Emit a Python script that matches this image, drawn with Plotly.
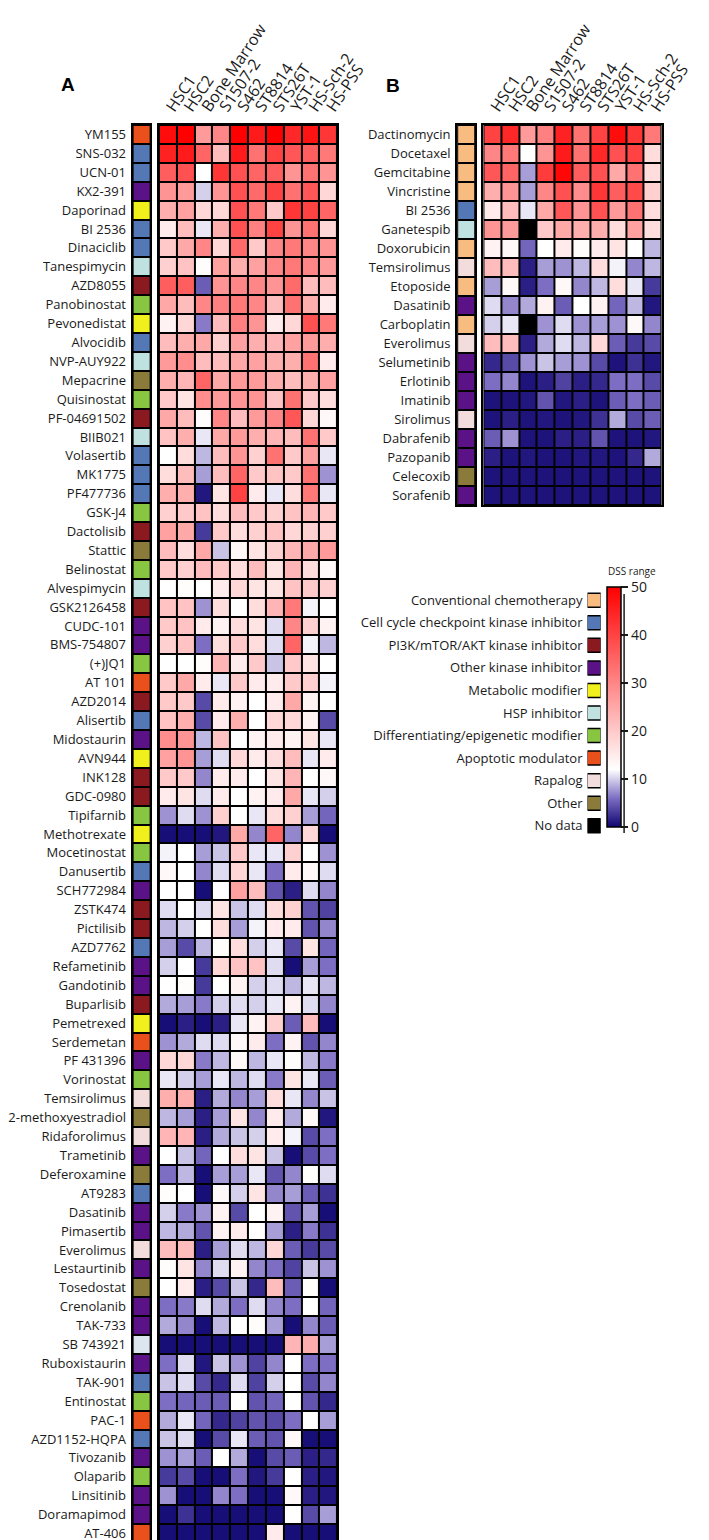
import plotly.graph_objects as go

W, H = 709, 1540

cell_lines = ["HSC1", "HSC2", "Bone Marrow", "S1507-2", "S462",
              "ST8814", "STS26T", "YST-1", "HS-Sch-2", "HS-PSS"]

# ---- panel A: drug screen ----
drugs_a = ["YM155", "SNS-032", "UCN-01", "KX2-391", "Daporinad", "BI 2536", "Dinaciclib",
           "Tanespimycin", "AZD8055", "Panobinostat", "Pevonedistat", "Alvocidib", "NVP-AUY922",
           "Mepacrine", "Quisinostat", "PF-04691502", "BIIB021", "Volasertib", "MK1775",
           "PF477736", "GSK-J4", "Dactolisib", "Stattic", "Belinostat", "Alvespimycin",
           "GSK2126458", "CUDC-101", "BMS-754807", "(+)JQ1", "AT 101", "AZD2014", "Alisertib",
           "Midostaurin", "AVN944", "INK128", "GDC-0980", "Tipifarnib", "Methotrexate",
           "Mocetinostat", "Danusertib", "SCH772984", "ZSTK474", "Pictilisib", "AZD7762",
           "Refametinib", "Gandotinib", "Buparlisib", "Pemetrexed", "Serdemetan", "PF 431396",
           "Vorinostat", "Temsirolimus", "2-methoxyestradiol", "Ridaforolimus", "Trametinib",
           "Deferoxamine", "AT9283", "Dasatinib", "Pimasertib", "Everolimus", "Lestaurtinib",
           "Tosedostat", "Crenolanib", "TAK-733", "SB 743921", "Ruboxistaurin", "TAK-901",
           "Entinostat", "PAC-1", "AZD1152-HQPA", "Tivozanib", "Olaparib", "Linsitinib",
           "Doramapimod", "AT-406"]

class_a = ["apop", "cc", "cc", "kin", "meta", "cc", "cc",
           "hsp", "pi3k", "epi", "meta", "cc", "hsp",
           "oth", "epi", "pi3k", "hsp", "cc", "cc",
           "cc", "epi", "pi3k", "oth", "epi", "hsp",
           "pi3k", "kin", "kin", "epi", "apop", "pi3k", "cc",
           "kin", "meta", "pi3k", "pi3k", "epi", "meta",
           "epi", "cc", "kin", "pi3k", "pi3k", "cc",
           "kin", "kin", "pi3k", "meta", "apop", "kin",
           "epi", "rapa", "oth", "rapa", "kin",
           "oth", "cc", "kin", "kin", "rapa", "kin",
           "oth", "kin", "kin", "ksp", "kin", "cc",
           "epi", "apop", "cc", "kin", "epi", "kin",
           "kin", "apop"]

dss_a = [
    [48, 50, 27, 30, 50, 46, 50, 44, 47, 42],
    [45, 46, 35, 22, 46, 33, 40, 37, 36, 32],
    [36, 38, 12, 42, 38, 35, 36, 28, 33, 28],
    [28, 27, 10, 28, 38, 34, 40, 33, 37, 18],
    [24, 26, 18, 18, 38, 32, 20, 42, 40, 35],
    [15, 22, 11, 24, 38, 31, 40, 28, 33, 18],
    [20, 25, 30, 18, 34, 20, 30, 32, 30, 28],
    [19, 21, 12.5, 26, 24, 26, 30, 32, 30, 27],
    [36, 36, 5, 28, 30, 30, 28, 34, 22, 22],
    [25, 22, 30, 31, 32, 30, 22, 33, 24, 15],
    [14, 18, 6.5, 22, 31, 28, 15, 18, 38, 32],
    [22, 24, 25, 19, 26, 24, 23, 26, 27, 24],
    [27, 29, 22, 22, 25, 26, 24, 24, 33, 15],
    [24, 23, 35, 25, 27, 27, 24, 22, 24, 26],
    [20, 16, 29, 27, 28, 28, 21, 33, 20, 17],
    [25, 22, 12.5, 30, 22, 27, 30, 37, 18, 13],
    [21, 24, 11, 25, 27, 24, 23, 22, 33, 20],
    [12, 17, 9, 22, 28, 19, 33, 20, 26, 11],
    [17, 22, 8, 22, 35, 20, 21, 20, 33, 7.5],
    [24, 24, 1, 16, 40, 15, 11, 17, 32, 11],
    [19, 20, 21, 17, 22, 20, 19, 21, 23, 20],
    [26, 25, 3, 20, 17, 19, 21, 18, 19, 19],
    [22, 17, 25, 9.5, 13, 16, 19, 23, 25, 27],
    [20, 19, 22, 20, 17, 22, 16, 23, 17, 13],
    [12, 12.5, 12, 15, 18, 16, 16, 21, 20, 19],
    [21, 21, 7.5, 17, 12, 17, 23, 32, 11.5, 12],
    [20, 21, 15, 14, 17, 16, 10.5, 30, 19, 14],
    [19, 21, 6, 17, 20, 17, 10.5, 35, 11.5, 9],
    [12, 12, 12.5, 23, 15, 20, 9.5, 20, 16, 12],
    [20, 25, 15, 11, 20, 15, 15, 20, 19, 11.5],
    [20, 20, 4, 15, 14, 12, 15, 25, 14, 12],
    [21, 24, 4, 15, 24, 12, 18, 18, 14, 4],
    [29, 28, 9, 21, 12, 14, 15, 14, 16, 11],
    [26, 28, 8, 10.5, 18, 15, 17, 22, 11, 15],
    [20, 20, 7, 15, 15, 12, 16, 23, 12, 13],
    [15, 16, 10.5, 15, 12, 14, 15, 25, 11, 10],
    [7.5, 10.5, 7.5, 19, 12, 11, 17, 19, 8, 5.5],
    [0.5, 0.5, 0.5, 1, 25, 7, 35, 7, 18, 0.5],
    [11.5, 12, 8, 9.5, 20, 11, 11, 19, 12, 7.5],
    [13, 12, 7, 10.5, 18, 11, 6, 15, 13, 10.5],
    [12, 12, 0.5, 12, 26, 22, 4.5, 1.5, 10.5, 7],
    [10.5, 12, 10.5, 16, 9.5, 10.5, 17, 19, 4.5, 3.5],
    [9, 10, 12, 17, 8, 11.5, 15, 15, 4.5, 7],
    [8, 4, 9, 12.5, 17, 10, 11, 4, 16, 5.5],
    [10, 12, 3, 18, 21, 21, 10.5, 0.5, 8, 6],
    [12, 12.5, 3, 12, 14, 10, 10.5, 9, 11, 9],
    [8.5, 8, 6.5, 10, 10.5, 10, 11, 14, 10.5, 7],
    [0.5, 1.5, 0.5, 1.5, 11, 14, 19, 5, 22, 0.5],
    [7.5, 8.5, 10.5, 10.5, 13, 15, 6, 14, 4.5, 7],
    [18, 18, 6.5, 9, 13, 9, 11, 12.5, 9, 6.5],
    [11, 10, 8, 11, 9, 10.5, 6.5, 16, 11, 5],
    [24, 24, 1.5, 8.5, 7, 8, 17, 11, 7, 9.5],
    [9, 8, 1.5, 8, 16, 7, 15, 8.5, 13, 1],
    [23, 23, 1.5, 8.5, 9.5, 10, 15, 11.5, 4, 6],
    [12, 9.5, 5.5, 12, 17, 16, 9.5, 0.5, 4, 6],
    [6, 9, 0.5, 8, 8, 11, 4.5, 7, 12.5, 10.5],
    [12.5, 12, 0.5, 13, 10, 16, 7, 8, 5, 2.5],
    [10, 6.5, 7.5, 14, 4, 12, 14, 4.5, 8, 0.5],
    [9, 8.5, 4.5, 14, 15, 12, 8, 1.5, 6.5, 2.5],
    [22, 22, 1.5, 8, 10.5, 9, 18, 5, 3, 4],
    [12.5, 16, 7, 10.5, 14, 7, 6, 3.5, 9.5, 7.5],
    [12, 15, 1.5, 4, 9.5, 2, 22, 5, 12.5, 0.5],
    [6, 6.5, 10.5, 8.5, 6, 10.5, 7, 6, 12, 5.5],
    [8.5, 7, 0.5, 9, 12, 12.5, 8, 0.5, 7, 5],
    [0.5, 0.5, 0.5, 0.5, 0.5, 0.5, 0.5, 23, 24, 8],
    [6, 10.5, 1, 9.5, 7.5, 3.5, 7, 12, 6, 6],
    [9.5, 10.5, 4, 2, 10.5, 3.5, 10, 12, 4, 7],
    [6, 5.5, 5, 5, 12, 4.5, 5.5, 12, 4.5, 2],
    [8.5, 11, 5.5, 2, 3.5, 4.5, 4, 6, 12, 8],
    [9.5, 10.5, 0.5, 4, 11, 5, 4.5, 13, 0.5, 0.5],
    [7.5, 8, 5, 12, 8.5, 0.5, 4, 5, 1.5, 2],
    [3, 4, 0.5, 0.5, 6, 1, 3, 12, 1.5, 1],
    [7.5, 0.5, 0.5, 7, 6, 0.5, 0.5, 13, 1.5, 1],
    [0.5, 2.5, 0.5, 0.5, 0.5, 0.5, 0.5, 12, 4, 8],
    [0.5, 0.5, 0.5, 0.5, 0.5, 0.5, 15, 0.5, 0.5, 0.5],
]

# ---- panel B: standard of care drugs ----
drugs_b = ["Dactinomycin", "Docetaxel", "Gemcitabine", "Vincristine", "BI 2536", "Ganetespib",
           "Doxorubicin", "Temsirolimus", "Etoposide", "Dasatinib", "Carboplatin", "Everolimus",
           "Selumetinib", "Erlotinib", "Imatinib", "Sirolimus", "Dabrafenib", "Pazopanib",
           "Celecoxib", "Sorafenib"]

class_b = ["chemo", "chemo", "chemo", "chemo", "cc", "hsp",
           "chemo", "rapa", "chemo", "kin", "chemo", "rapa",
           "kin", "kin", "kin", "rapa", "kin", "kin",
           "oth", "kin"]

dss_b = [
    [40, 44, 27, 31, 45, 33, 40, 48, 42, 32],
    [30, 32, 12, 28, 46, 33, 44, 38, 40, 17],
    [37, 35, 8, 41, 49, 36, 38, 25, 33, 17],
    [24, 28, 8, 30, 38, 29, 42, 36, 39, 19],
    [15, 22, 11, 25, 37, 28, 38, 27, 33, 17],
    [28, 27, None, 20, 25, 24, 24, 17, 26, 17],
    [14, 13, 5.5, 12, 15, 12.5, 15, 16, 12, 9],
    [22, 22, 1.5, 8, 7.5, 9, 17, 11.5, 7, 9],
    [8, 13, 1.5, 6, 13, 7, 9, 17, 11, 3],
    [10.5, 7, 8.5, 14, 5, 12, 14, 5.5, 9, 1],
    [10, 11, None, 7.5, 10.5, 7.5, 8, 7.5, 13, 7],
    [22, 22, 1.5, 8.5, 10.5, 9, 18, 5, 3, 4],
    [2, 4, 7.5, 9.5, 8, 7.5, 4, 0.8, 2.5, 1],
    [6, 7, 0.8, 1.5, 3.5, 1.5, 2, 6, 6, 4],
    [0.8, 0.8, 1, 4.5, 1, 1.5, 0.8, 5, 6, 5],
    [0.8, 1.5, 0.8, 1, 0.8, 1, 2.5, 8.5, 4, 5],
    [5, 7.5, 0.8, 0.8, 1.5, 1.5, 4.5, 0.8, 0.8, 1],
    [1.5, 0.8, 1, 0.8, 0.8, 1, 1, 0.8, 2, 8.5],
    [0.8, 0.8, 0.8, 0.8, 0.8, 0.8, 0.8, 0.8, 0.8, 0.8],
    [0.8, 0.8, 0.8, 0.8, 0.8, 0.8, 0.8, 0.8, 0.8, 0.8],
]

# drug class legend
class_keys = ["chemo", "cc", "pi3k", "kin", "meta", "hsp", "epi", "apop", "rapa", "oth", "nodata"]
class_names = ["Conventional chemotherapy", "Cell cycle checkpoint kinase inhibitor",
               "PI3K/mTOR/AKT kinase inhibitor", "Other kinase inhibitor", "Metabolic modifier",
               "HSP inhibitor", "Differentiating/epigenetic modifier", "Apoptotic modulator",
               "Rapalog", "Other", "No data"]
class_colors = {"chemo": "#f8bc80", "cc": "#5477b6", "pi3k": "#8a1a1f", "kin": "#5a1286",
                "meta": "#f0f01c", "hsp": "#bfe2e0", "epi": "#88c540", "apop": "#e9501c",
                "rapa": "#f3dcdc", "oth": "#8b7b3a", "nodata": "#000000", "ksp": "#dce6ef"}

swatch_keys = list(class_colors.keys())
nsw = len(swatch_keys)
swatch_scale = []
for i, k in enumerate(swatch_keys):
    swatch_scale.append([i / nsw, class_colors[k]])
    swatch_scale.append([(i + 1) / nsw, class_colors[k]])

dss_scale = [[0, "rgb(15,5,112)"], [0.12, "rgb(125,110,195)"], [0.24, "white"], [1, "rgb(255,0,0)"]]

FONT = "Open Sans, DejaVu Sans, sans-serif"
INK = "#1a1a1a"


def px_x(p):
    return p / W


def px_y(p):
    return 1 - p / H


def ax(n):
    return "" if n == 1 else str(n)


fig = go.Figure()
shapes = []


def add_panel(drugs, classes, dss, n, top, bottom, sw_left, heat_left):
    rows = list(range(len(drugs)))
    cols = list(range(len(cell_lines)))
    fig.add_trace(go.Heatmap(
        z=[[swatch_keys.index(c) + 0.5] for c in classes], x=[0], y=rows,
        coloraxis="coloraxis2", xgap=2, ygap=2, hoverinfo="skip",
        xaxis="x" + ax(n), yaxis="y" + ax(n)))
    fig.add_trace(go.Heatmap(
        z=dss, x=cols, y=rows, coloraxis="coloraxis", xgap=2, ygap=2,
        xaxis="x" + str(n + 1), yaxis="y" + str(n + 1)))
    # black backing so the cell gaps read as borders
    for m in (ax(n), str(n + 1)):
        shapes.append(dict(type="rect", xref="x%s domain" % m, yref="y%s domain" % m,
                           x0=0, x1=1, y0=0, y1=1, fillcolor="black",
                           line=dict(width=0), layer="below"))
    ydom = [px_y(bottom), px_y(top)]
    yrng = [len(drugs) - 0.5, -0.5]
    frame = dict(showline=True, mirror=True, linecolor="black", linewidth=2,
                 showgrid=False, zeroline=False)
    fig.update_layout(**{
        "xaxis" + ax(n): dict(domain=[px_x(sw_left), px_x(sw_left + 19)], range=[-0.5, 0.5],
                              showticklabels=False, ticks="", anchor="y" + ax(n), **frame),
        "yaxis" + ax(n): dict(domain=ydom, range=yrng, tickmode="array", tickvals=rows,
                              ticktext=drugs, ticks="", ticklabelstandoff=2,
                              tickfont=dict(size=13, color=INK, family=FONT),
                              anchor="x" + ax(n), **frame),
        "xaxis" + str(n + 1): dict(domain=[px_x(heat_left), px_x(heat_left + 190)],
                                   range=[-0.5, len(cell_lines) - 0.5],
                                   tickmode="array", tickvals=cols, ticktext=cell_lines,
                                   side="top", tickangle=-56, ticks="",
                                   tickfont=dict(size=16, color=INK, family=FONT),
                                   anchor="y" + str(n + 1), **frame),
        "yaxis" + str(n + 1): dict(domain=ydom, range=yrng, showticklabels=False, ticks="",
                                   anchor="x" + str(n + 1), **frame),
    })


add_panel(drugs_a, class_a, dss_a, 1, 117, 1535, 119, 147)
add_panel(drugs_b, class_b, dss_b, 3, 117, 497, 465, 493)

# class legend as a column of swatches
fig.add_trace(go.Scatter(
    x=[0] * len(class_keys), y=list(range(len(class_keys))), mode="markers",
    marker=dict(symbol="square", size=14, color=[class_colors[k] for k in class_keys],
                line=dict(color="black", width=1.5)),
    xaxis="x5", yaxis="y5", hoverinfo="skip", showlegend=False))
fig.update_layout(
    xaxis5=dict(domain=[px_x(604), px_x(618)], range=[-0.5, 0.5], visible=False, anchor="y5"),
    yaxis5=dict(domain=[px_y(829), px_y(581)], range=[len(class_keys) - 0.5, -0.5],
                tickmode="array", tickvals=list(range(len(class_keys))), ticktext=class_names,
                ticks="", showgrid=False, zeroline=False, showline=False, ticklabelstandoff=4,
                tickfont=dict(size=13, color=INK, family=FONT), anchor="x5"),
)

shapes.append(dict(type="line", xref="paper", yref="paper", x0=px_x(643), x1=px_x(643),
                   y0=px_y(586), y1=px_y(825), line=dict(color=INK, width=1.5)))

fig.update_layout(
    width=W, height=H, autosize=False,
    margin=dict(l=0, r=0, t=0, b=0),
    paper_bgcolor="white", plot_bgcolor="white",
    font=dict(family=FONT, color=INK),
    showlegend=False,
    coloraxis=dict(
        colorscale=dss_scale, cmin=0, cmax=50,
        colorbar=dict(
            x=px_x(625), xanchor="left", y=px_y(579), yanchor="top",
            len=240, lenmode="pixels", thickness=14, thicknessmode="pixels",
            outlinewidth=1.5, outlinecolor="black", xpad=0, ypad=0,
            tickvals=[0, 10, 20, 30, 40, 50], ticks="outside", ticklen=7,
            tickwidth=1.5, tickcolor=INK, tickfont=dict(size=14, color=INK, family=FONT),
        ),
    ),
    coloraxis2=dict(colorscale=swatch_scale, cmin=0, cmax=nsw, showscale=False),
    annotations=[
        dict(text="<b>A</b>", x=px_x(41), y=px_y(64), xref="paper", yref="paper",
             showarrow=False, font=dict(size=19, family="Liberation Sans, Arial", color="black")),
        dict(text="<b>B</b>", x=px_x(397), y=px_y(65), xref="paper", yref="paper",
             showarrow=False, font=dict(size=19, family="Liberation Sans, Arial", color="black")),
        dict(text="DSS range", x=px_x(624), y=px_y(563), xref="paper", yref="paper",
             xanchor="left", showarrow=False, font=dict(size=10, family=FONT, color=INK)),
    ],
    shapes=shapes,
)

fig.write_html("out.html")
